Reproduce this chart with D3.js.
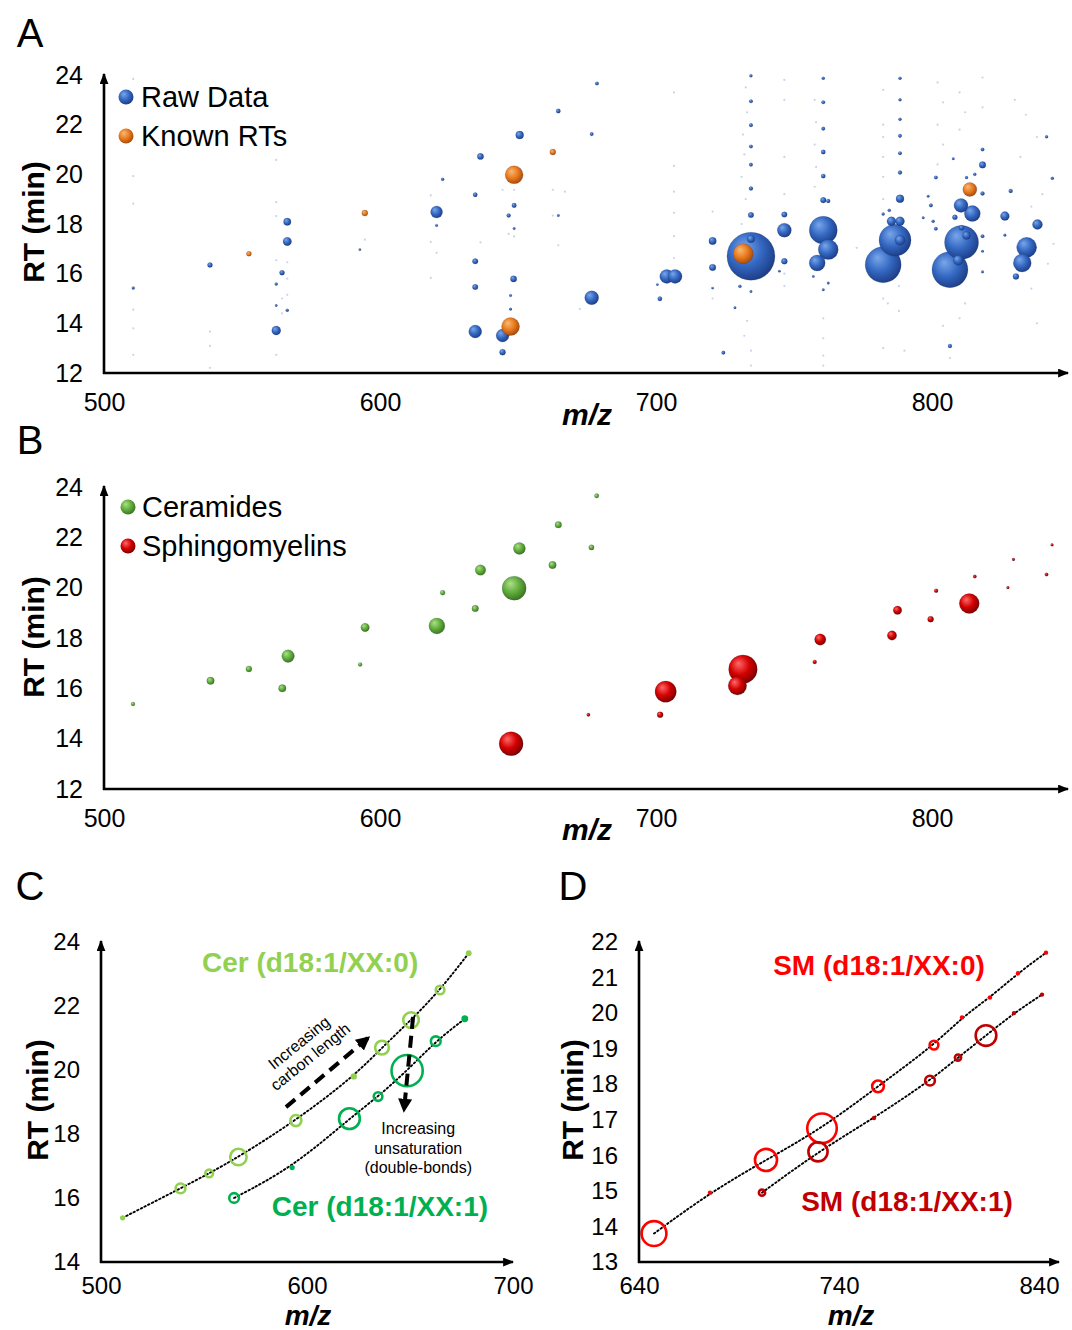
<!DOCTYPE html>
<html>
<head>
<meta charset="utf-8">
<script src="https://cdn.jsdelivr.net/npm/d3@7"></script>
<style>
  body { margin:0; background:#fff; }
  svg { display:block; font-family:"Liberation Sans", Arial, sans-serif; }
  .axis-line { stroke:#000; stroke-width:2.6; fill:none; }
  .tick text { fill:#000; }
  .panel-letter { font-size:40px; }
  .ytitle { font-size:30px; font-weight:bold; }
  .xtitle { font-size:30px; font-weight:bold; font-style:italic; }
  .xtitle.small { font-size:28px; }
  .legend { font-size:29px; }
  .trend { stroke:#000; stroke-width:1.9; stroke-dasharray:1.5 2.6; stroke-linecap:round; fill:none; }
  .series-label { font-size:28px; font-weight:bold; }
  .note { font-size:16px; }
  .dash-arrow { stroke:#000; stroke-width:4; stroke-dasharray:12 7; fill:none; }
</style>
</head>
<body>
<script>
// ---- data ----
// panel A, raw features: [m/z, RT (min), intensity]
var rawData = [
  [510.6,15.42,2.3],[538.4,16.35,6.3],[562.4,13.71,20],[562.4,15.58,2.3],[562.4,14.72,1.4],
  [566.4,18.09,14],[566.4,17.30,18],[564.5,16.04,6.3],[566.4,14.53,2.3],
  [592.7,16.97,1.4],[620.5,18.48,36],[620.5,17.94,1.7],[622.7,19.80,2.3],[634.5,19.18,4.8],
  [636.4,20.72,10],[634.5,16.50,7.8],[634.5,15.46,7.8],[634.5,13.67,42],[644.4,13.51,42],
  [644.4,12.84,9],[647.3,15.12,1.7],[647.3,14.57,1.7],[648.4,15.79,10],[648.6,18.75,5.3],
  [646.6,18.34,4],[648.6,17.82,1.7],[650.6,21.58,16],[664.6,22.55,4.8],[664.6,18.34,1.7],
  [676.7,21.62,3.2],[678.6,23.66,3.2],[676.7,15.03,49],
  [701.4,14.99,4.8],[703.9,15.89,49],[706.9,15.89,49],[700.5,15.56,1.4],
  [720.5,17.32,14],[720.5,16.25,11],[720.5,15.42,1.4],[724.4,12.82,3.2],
  [734.4,16.70,576],[734.4,17.40,14],[734.4,18.36,7.8],[734.4,19.43,4],[734.4,20.39,3.2],
  [734.4,21.12,3.2],[734.4,21.98,3.2],[734.4,22.94,3.2],[734.4,23.97,2.3],[730.4,15.49,2.3],
  [728.6,14.63,1.7],[734.4,15.28,1.7],
  [746.5,18.38,7.8],[746.5,17.75,49],[746.5,16.50,9],[744.7,16.10,1.4],
  [760.6,17.75,196],[762.4,16.97,100],[758.4,16.43,64],[760.6,18.96,7.8],[762.4,18.93,4],
  [760.6,19.93,4.8],[760.6,20.90,4.8],[760.6,21.84,3.2],[760.6,22.90,3.2],[760.6,23.87,2.3],
  [762.4,15.62,1.7],[760.6,15.35,1.7],[757.0,15.89,1.4],
  [782.3,16.36,324],[786.6,17.35,256],[788.4,17.35,25],[785.3,18.11,20],[788.4,18.11,20],
  [788.4,19.02,16],[788.4,20.07,4],[788.4,20.85,3.2],[788.4,21.55,3.2],[788.4,22.22,2.3],
  [788.4,23.00,2.3],[788.4,23.87,2.3],[782.3,18.40,2.3],[784.5,18.55,2.3],
  [799.6,18.75,3.2],[801.4,19.87,3.2],[800.4,18.11,2.3],[798.6,19.12,1.7],[796.8,18.25,1.7],
  [801.4,17.81,3.2],[812.5,17.54,16],[815.5,20.00,2.3],[812.5,19.87,2.3],[807.7,20.63,1.7],
  [806.5,16.16,324],[810.7,17.26,289],[809.5,16.54,25],[810.5,18.75,49],[814.6,18.42,64],
  [818.3,20.38,11],[818.3,19.23,4],[818.3,21.00,3.2],[818.3,17.51,3.2],[818.3,16.90,1.7],
  [818.3,16.07,1.7],[808.3,18.27,6.3],[810.7,17.85,6.3],[806.5,13.09,4],
  [826.4,18.32,20],[828.5,19.33,4],[834.3,17.06,100],[832.7,16.43,81],[830.4,15.89,9],
  [838.2,17.98,25],[841.5,21.51,2.3],[843.6,19.84,2.3],[826.4,17.55,1.7]
];

// panel A, barely visible low-intensity features: [m/z, RT]
var faintData = [
  [510.6,23.84],[510.6,19.93],[510.6,18.82],[510.6,14.55],[510.6,13.80],[510.6,12.73],
  [538.4,13.67],[538.4,13.09],[538.4,12.21],
  [562.4,20.58],[562.4,18.88],[562.4,18.32],[562.4,16.54],[562.4,12.73],
  [566.4,16.46],[566.4,15.80],[566.4,15.15],[564.5,15.00],[564.5,14.40],
  [594.5,17.37],[618.4,19.15],[618.4,17.28],[618.4,15.83],[620.5,16.84],[636.4,17.26],
  [644.4,19.38],[648.6,19.38],[648.6,17.50],[646.6,17.60],
  [662.6,19.38],[662.6,18.34],[664.6,17.14],[667.0,19.30],[672.4,14.58],
  [706.5,23.30],[706.5,20.34],[706.5,19.30],[706.5,18.45],[706.5,17.51],[706.5,16.63],
  [720.5,18.50],[720.5,15.00],
  [732.5,23.50],[733.0,22.50],[731.5,21.60],[732.0,20.80],[731.0,19.90],[732.5,19.00],
  [731.0,18.00],[733.0,14.10],[732.0,13.50],[734.4,12.90],[734.4,12.30],
  [746.5,23.80],[746.5,23.00],[746.5,20.70],[746.5,19.20],[746.5,16.00],[746.5,15.50],
  [757.5,23.00],[758.0,22.10],[757.5,21.20],[758.0,20.30],[757.5,19.50],
  [760.6,14.20],[760.6,13.40],[760.6,12.70],[760.6,12.30],[772.7,17.04],
  [782.3,23.40],[782.3,22.00],[782.3,21.50],[782.3,20.70],[782.3,19.90],[782.3,19.00],
  [782.3,15.00],[784.0,14.80],[782.3,13.00],[788.0,15.50],[788.0,14.50],[790.0,12.90],
  [802.0,23.70],[804.0,22.90],[802.0,22.00],[804.0,21.20],[802.0,20.40],[804.0,13.90],
  [806.5,12.60],[810.0,23.30],[812.0,22.50],[810.0,21.80],[812.0,14.80],[810.0,14.20],
  [818.3,23.90],[818.3,22.70],
  [830.0,23.00],[834.0,22.40],[838.0,21.50],[832.0,20.70],[840.0,19.20],[836.0,18.70],
  [844.0,17.20],[842.0,16.40],[836.0,15.40],[838.0,14.00]
];

// panel A, standards with known retention times: [m/z, RT, intensity]
var knownRTs = [
  [552.5,16.80,6.3],[594.5,18.44,9],[647.3,13.87,81],[648.6,19.98,81],
  [662.6,20.90,9],[731.6,16.80,100],[813.7,19.39,49]
];

// ceramides and sphingomyelins: [m/z, RT, intensity]
var cer0 = [
  [510.5,15.38,4],[538.6,16.30,14],[552.5,16.77,9],[566.7,17.28,40],[594.6,18.42,18],
  [622.7,19.80,6],[636.4,20.70,28],[650.5,21.56,36],[664.6,22.50,11],[678.5,23.65,5]
];
var cer1 = [
  [564.6,16.00,14],[592.8,16.95,4],[620.6,18.48,64],[634.5,19.17,11],
  [648.6,19.98,144],[662.5,20.90,14],[676.6,21.60,7]
];
var sm0 = [
  [647.5,13.80,144],[675.5,14.95,3],[703.5,15.87,114],[731.5,16.76,204],[759.5,17.94,32],
  [787.5,19.10,18],[801.5,19.88,4],[815.5,20.44,3],[829.5,21.12,2],[843.5,21.70,2]
];
var sm1 = [
  [701.5,14.95,9],[729.5,16.10,86],[757.5,17.05,4],[785.5,18.10,22],
  [799.5,18.75,9],[813.5,19.37,100],[827.5,20.00,2],[841.5,20.52,3]
];

var abXTicks = [500, 600, 700, 800];
var abYTicks = [12, 14, 16, 18, 20, 22, 24];
var cXTicks = [500, 600, 700];
var cYTicks = [14, 16, 18, 20, 22, 24];
var dXTicks = [640, 740, 840];
var dYTicks = [13, 14, 15, 16, 17, 18, 19, 20, 21, 22];

// ---- setup ----
var W = 1072, H = 1330;
var svg = d3.select("body").append("svg").attr("width", W).attr("height", H);
var defs = svg.append("defs");

defs.append("marker").attr("id", "axarrow")
    .attr("viewBox", "0 0 10 8").attr("refX", 9).attr("refY", 4)
    .attr("markerUnits", "userSpaceOnUse").attr("markerWidth", 11).attr("markerHeight", 9)
    .attr("orient", "auto")
  .append("path").attr("d", "M0,0 L10,4 L0,8 z").attr("fill", "#000");
defs.append("marker").attr("id", "dasharrow")
    .attr("viewBox", "0 0 10 10").attr("refX", 8).attr("refY", 5)
    .attr("markerUnits", "userSpaceOnUse").attr("markerWidth", 14).attr("markerHeight", 14)
    .attr("orient", "auto")
  .append("path").attr("d", "M0,0 L10,5 L0,10 z").attr("fill", "#000");

function sphereGrad(id, light, base, dark) {
  var g = defs.append("radialGradient").attr("id", id)
      .attr("cx", 0.42).attr("cy", 0.4).attr("r", 0.62).attr("fx", 0.34).attr("fy", 0.3);
  g.append("stop").attr("offset", "0%").attr("stop-color", light);
  g.append("stop").attr("offset", "55%").attr("stop-color", base);
  g.append("stop").attr("offset", "100%").attr("stop-color", dark);
}
sphereGrad("gBlue", "#7aa7ea", "#3468c2", "#1d3d86");
sphereGrad("gOrange", "#f8bb74", "#e97a1f", "#a54a0a");
sphereGrad("gGreen", "#aee08a", "#62ad3d", "#3a7420");
sphereGrad("gRed", "#ff6a6a", "#d40000", "#7a0000");

function axes(g, x, y, xTicks, yTicks, fs, xEnd, xPad) {
  var x0 = x.range()[0], y0 = y.range()[0];
  g.append("g").attr("transform", "translate(0," + y0 + ")")
    .call(d3.axisBottom(x).tickValues(xTicks).tickSize(0).tickPadding(xPad))
    .call(function(s) { s.select(".domain").remove(); })
    .selectAll("text").style("font-size", fs + "px");
  g.append("g").attr("transform", "translate(" + x0 + ",0)")
    .call(d3.axisLeft(y).tickValues(yTicks).tickSize(0).tickPadding(21))
    .call(function(s) { s.select(".domain").remove(); })
    .selectAll("text").style("font-size", fs + "px");
  g.append("path").attr("class", "axis-line")
    .attr("d", "M" + x0 + "," + (y0 + 1) + "V" + (y.range()[1] - 1))
    .attr("marker-end", "url(#axarrow)");
  g.append("path").attr("class", "axis-line")
    .attr("d", "M" + (x0 - 1) + "," + y0 + "H" + xEnd)
    .attr("marker-end", "url(#axarrow)");
}

function spheres(g, data, x, y, r, fill, minR) {
  g.selectAll(null)
    .data(data.slice().sort(function(a, b) { return b[2] - a[2]; }))
    .join("circle")
    .attr("cx", function(d) { return x(d[0]); })
    .attr("cy", function(d) { return y(d[1]); })
    .attr("r", function(d) { return Math.max(minR, r(d[2])); })
    .attr("fill", "url(#" + fill + ")")
    .attr("stroke", "#10204a").attr("stroke-opacity", 0.25).attr("stroke-width", 0.6);
}

function yTitle(x, y) {
  svg.append("text").attr("class", "ytitle")
    .attr("transform", "translate(" + x + "," + y + ") rotate(-90)")
    .attr("text-anchor", "middle").attr("dominant-baseline", "central")
    .text("RT (min)");
}
function xTitle(x, y, cls) {
  svg.append("text").attr("class", "xtitle" + (cls ? " " + cls : "")).attr("x", x).attr("y", y)
    .attr("text-anchor", "middle").text("m/z");
}
function letter(t, x, y) {
  svg.append("text").attr("class", "panel-letter").attr("x", x).attr("y", y)
    .attr("text-anchor", "middle").text(t);
}

// ---- panel A ----
var xAB = d3.scaleLinear().domain([500, 848]).range([104, 1064.5]);
var yA = d3.scaleLinear().domain([12, 24]).range([373, 75]);
var rA = d3.scaleSqrt().domain([0, 576]).range([0, 24]);
var gA = svg.append("g");

gA.selectAll(".faint").data(faintData).join("circle")
  .attr("cx", function(d) { return xAB(d[0]); })
  .attr("cy", function(d) { return yA(d[1]); })
  .attr("r", 1.1).attr("fill", "#6f93d6").attr("opacity", 0.4);
spheres(gA, rawData, xAB, yA, rA, "gBlue", 1);
spheres(gA, knownRTs, xAB, yA, rA, "gOrange", 1);
axes(gA, xAB, yA, abXTicks, abYTicks, 25, 1068, 20);

var legA = [["Raw Data", "gBlue"], ["Known RTs", "gOrange"]];
legA.forEach(function(l, i) {
  gA.append("circle").attr("cx", 126).attr("cy", 97 + i * 39).attr("r", 7.5)
    .attr("fill", "url(#" + l[1] + ")");
  gA.append("text").attr("class", "legend").attr("x", 141).attr("y", 97 + i * 39)
    .attr("dominant-baseline", "central").text(l[0]);
});
letter("A", 30, 47);
yTitle(33, 222);
xTitle(587, 425);

// ---- panel B ----
var yB = d3.scaleLinear().domain([12, 24]).range([789, 487]);
var rB = d3.scaleSqrt().domain([0, 225]).range([0, 15]);
var gB = svg.append("g");
spheres(gB, cer0.concat(cer1), xAB, yB, rB, "gGreen", 1.6);
spheres(gB, sm0.concat(sm1), xAB, yB, rB, "gRed", 1.4);
axes(gB, xAB, yB, abXTicks, abYTicks, 25, 1068, 20);

var legB = [["Ceramides", "gGreen"], ["Sphingomyelins", "gRed"]];
legB.forEach(function(l, i) {
  gB.append("circle").attr("cx", 128).attr("cy", 507 + i * 39).attr("r", 7.5)
    .attr("fill", "url(#" + l[1] + ")");
  gB.append("text").attr("class", "legend").attr("x", 142).attr("y", 507 + i * 39)
    .attr("dominant-baseline", "central").text(l[0]);
});
letter("B", 30, 454);
yTitle(33, 637);
xTitle(587, 840);

// ---- panels C & D helpers ----
function series(g, data, x, y, r, color, fillBelow) {
  var line = d3.line()
    .x(function(d) { return x(d[0]); })
    .y(function(d) { return y(d[1]); })
    .curve(d3.curveBasis);
  g.append("path").attr("class", "trend").attr("d", line(data));
  g.selectAll(null).data(data).join("circle")
    .attr("cx", function(d) { return x(d[0]); })
    .attr("cy", function(d) { return y(d[1]); })
    .attr("r", function(d) { return Math.max(2.2, r(d[2])); })
    .attr("fill", function(d) { return r(d[2]) < fillBelow ? color : "none"; })
    .attr("stroke", color)
    .attr("stroke-width", function(d) { return r(d[2]) < fillBelow ? 0 : 2.6; });
}

// ---- panel C ----
var xC = d3.scaleLinear().domain([500, 700]).range([101, 513]);
var yC = d3.scaleLinear().domain([14, 24]).range([1262, 942]);
var rC = d3.scaleSqrt().domain([0, 225]).range([0, 19.5]);
var gC = svg.append("g");
series(gC, cer0, xC, yC, rC, "#92d050", 3.6);
series(gC, cer1, xC, yC, rC, "#00b050", 3.6);
axes(gC, xC, yC, cXTicks, cYTicks, 24, 513, 15);

gC.append("text").attr("class", "series-label").attr("fill", "#92d050")
  .attr("x", xC(601.5)).attr("y", yC(23.35)).attr("text-anchor", "middle")
  .attr("dominant-baseline", "central").text("Cer (d18:1/XX:0)");
gC.append("text").attr("class", "series-label").attr("fill", "#00b050")
  .attr("x", xC(635.4)).attr("y", yC(15.72)).attr("text-anchor", "middle")
  .attr("dominant-baseline", "central").text("Cer (d18:1/XX:1)");

gC.append("line").attr("class", "dash-arrow")
  .attr("x1", xC(589.8)).attr("y1", yC(18.84)).attr("x2", xC(629.6)).attr("y2", yC(21.0))
  .attr("marker-end", "url(#dasharrow)");
gC.append("line").attr("class", "dash-arrow")
  .attr("x1", xC(651.5)).attr("y1", yC(21.66)).attr("x2", xC(647.1)).attr("y2", yC(18.75))
  .attr("marker-end", "url(#dasharrow)");

var carb = gC.append("text").attr("class", "note").attr("text-anchor", "middle")
  .attr("transform", "translate(" + xC(599) + "," + yC(20.62) + ") rotate(-39)");
carb.append("tspan").attr("x", 0).attr("y", -4).text("Increasing");
carb.append("tspan").attr("x", 0).attr("y", 14).text("carbon length");

var unsat = ["Increasing", "unsaturation", "(double-bonds)"];
gC.selectAll(".unsat").data(unsat).join("text").attr("class", "note")
  .attr("text-anchor", "middle").attr("dominant-baseline", "central")
  .attr("x", xC(654)).attr("y", function(d, i) { return yC(18.16) + i * 19.5; })
  .text(function(d) { return d; });

letter("C", 30, 900);
yTitle(37, 1100);
xTitle(308, 1325, "small");

// ---- panel D ----
var xD = d3.scaleLinear().domain([640, 850]).range([639, 1059]);
var yD = d3.scaleLinear().domain([13, 22]).range([1262, 942]);
var rD = d3.scaleSqrt().domain([0, 225]).range([0, 15.5]);
var gD = svg.append("g");
series(gD, sm0, xD, yD, rD, "#ff0000", 3.1);
series(gD, sm1, xD, yD, rD, "#c00000", 3.1);
axes(gD, xD, yD, dXTicks, dYTicks, 24, 1059, 15);

gD.append("text").attr("class", "series-label").attr("fill", "#ff0000")
  .attr("x", xD(760)).attr("y", yD(21.35)).attr("text-anchor", "middle")
  .attr("dominant-baseline", "central").text("SM (d18:1/XX:0)");
gD.append("text").attr("class", "series-label").attr("fill", "#c00000")
  .attr("x", xD(774)).attr("y", yD(14.7)).attr("text-anchor", "middle")
  .attr("dominant-baseline", "central").text("SM (d18:1/XX:1)");

letter("D", 573, 900);
yTitle(572, 1100);
xTitle(851, 1325, "small");
</script>
</body>
</html>
